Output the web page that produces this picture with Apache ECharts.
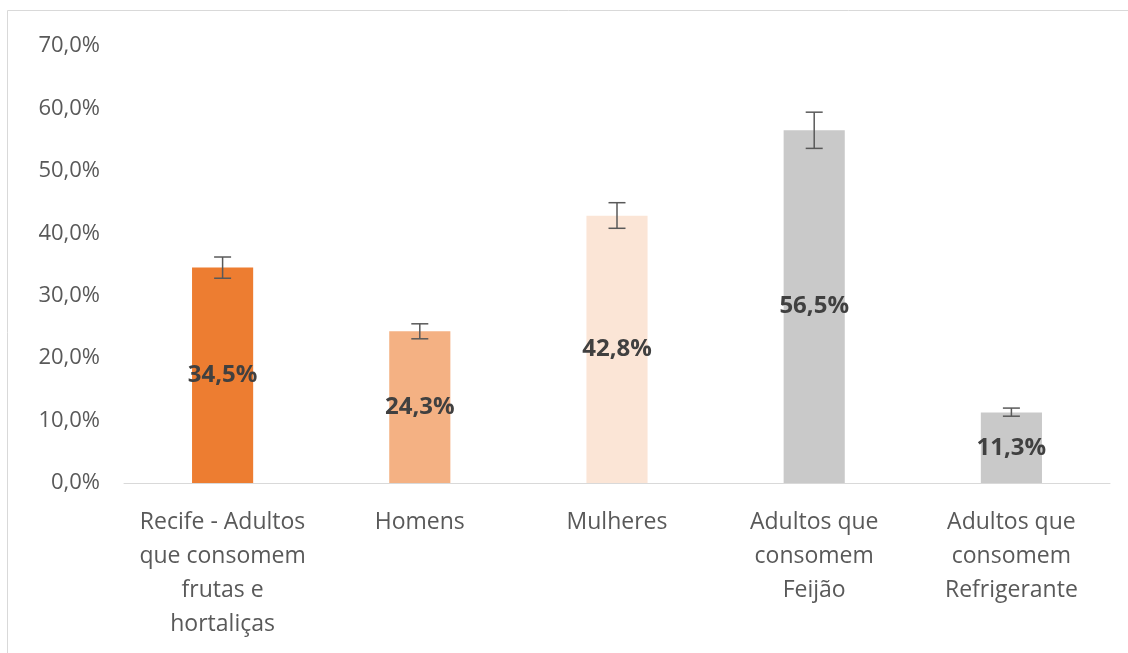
<!DOCTYPE html>
<html>
<head>
<meta charset="utf-8">
<script src="https://cdn.jsdelivr.net/npm/echarts@6/dist/echarts.min.js"></script>
<style>
html, body { margin: 0; padding: 0; background: #fff; }
#chart { width: 1128px; height: 653px; }
</style>
</head>
<body>
<div id="chart"></div>
<script>
var categories = ['Recife - Adultos\nque consomem\nfrutas e\nhortaliças', 'Homens', 'Mulheres', 'Adultos que\nconsomem\nFeijão', 'Adultos que\nconsomem\nRefrigerante'];
var values = [34.5, 24.3, 42.8, 56.5, 11.3];
var errLow = [32.8, 23.1, 40.8, 53.6, 10.7];
var errHigh = [36.2, 25.5, 44.9, 59.4, 12.0];
var barColors = ['#ED7D31', '#F4B183', '#FBE5D6', '#C9C9C9', '#C9C9C9'];

var chart = echarts.init(document.getElementById('chart'));

function pct(v) {
    return v.toFixed(1).replace('.', ',') + '%';
}

var option = {
    animation: false,
    graphic: [{
        type: 'rect',
        shape: { x: 7.5, y: 10.5, width: 1140, height: 660 },
        style: { fill: 'none', stroke: '#d9d9d9', lineWidth: 1 }
    }],
    grid: { left: 124, right: 18, top: 46, bottom: 170 },
    xAxis: {
        type: 'category',
        data: categories,
        axisLine: { lineStyle: { color: '#d9d9d9', width: 1 } },
        axisTick: { show: false },
        axisLabel: {
            color: '#595959',
            fontSize: 23,
            fontFamily: 'Open Sans',
            lineHeight: 34,
            margin: 22,
            interval: 0
        }
    },
    yAxis: {
        type: 'value',
        min: 0,
        max: 70,
        interval: 10,
        splitLine: { show: false },
        axisLine: { show: false },
        axisTick: { show: false },
        axisLabel: {
            color: '#595959',
            fontSize: 22,
            fontFamily: 'Open Sans',
            margin: 24,
            formatter: function (v) { return pct(v); }
        }
    },
    series: [{
        type: 'bar',
        barWidth: '31%',
        data: values.map(function (v, i) {
            return { value: v, itemStyle: { color: barColors[i] } };
        }),
        label: {
            show: true,
            position: 'inside',
            color: '#404040',
            fontSize: 24,
            fontWeight: 'bold',
            fontFamily: 'Open Sans',
            formatter: function (p) { return pct(p.value); }
        }
    }, {
        type: 'custom',
        data: categories.map(function (c, i) { return [i, errLow[i], errHigh[i]]; }),
        renderItem: function (params, api) {
            var lo = api.coord([api.value(0), api.value(1)]);
            var hi = api.coord([api.value(0), api.value(2)]);
            var hw = 8.5;
            var st = { stroke: '#595959', lineWidth: 1.5 };
            return {
                type: 'group',
                children: [
                    { type: 'line', shape: { x1: hi[0], y1: hi[1], x2: lo[0], y2: lo[1] }, style: st },
                    { type: 'line', shape: { x1: hi[0] - hw, y1: hi[1], x2: hi[0] + hw, y2: hi[1] }, style: st },
                    { type: 'line', shape: { x1: lo[0] - hw, y1: lo[1], x2: lo[0] + hw, y2: lo[1] }, style: st }
                ]
            };
        },
        z: 10
    }]
};
chart.setOption(option);
</script>
</body>
</html>
